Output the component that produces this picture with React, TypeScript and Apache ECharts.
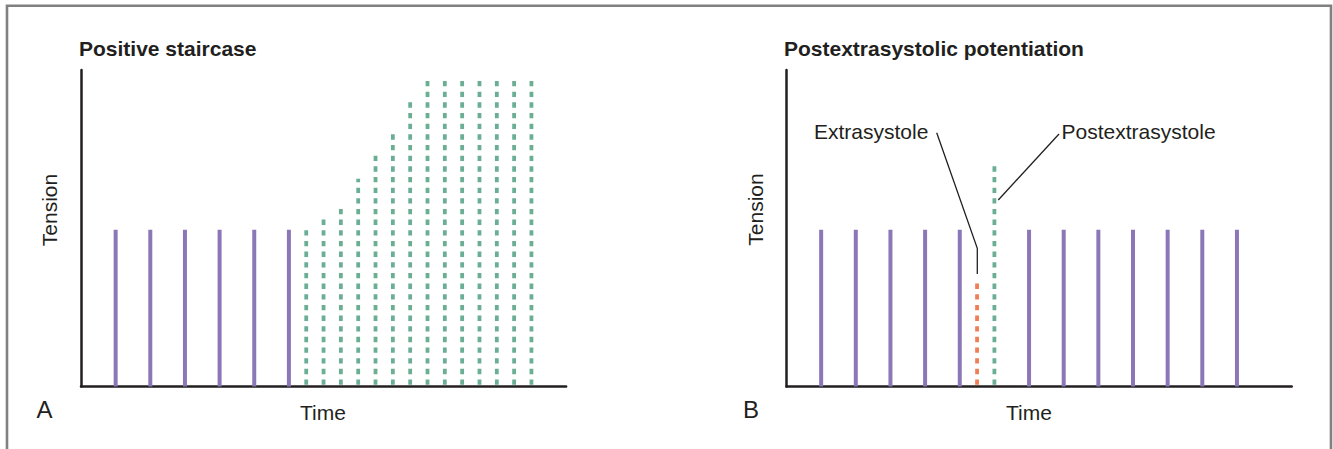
import React, { useEffect, useRef } from "react";
import * as echarts from "echarts";

// ---- Data (time in beat intervals, tension in arbitrary units) ----
const staircaseRegularTime = [1, 2, 3, 4, 5, 6];
const staircaseRegularTension = [50, 50, 50, 50, 50, 50];
const staircaseFastTime = [6.5, 7, 7.5, 8, 8.5, 9, 9.5, 10, 10.5, 11, 11.5, 12, 12.5, 13];
const staircaseFastTension = [50.5, 54, 57.3, 66.3, 74.3, 81.2, 91.4, 98.1, 98.1, 98.1, 98.1, 98.1, 98.1, 98.1];

const pespRegularTime = [1, 2, 3, 4, 5, 7, 8, 9, 10, 11, 12, 13];
const pespRegularTension = [50, 50, 50, 50, 50, 50, 50, 50, 50, 50, 50, 50];
const extrasystoleTime = [5.5];
const extrasystoleTension = [33.5];
const postextrasystoleTime = [6];
const postextrasystoleTension = [71];

const titles = ["Positive staircase", "Postextrasystolic potentiation"];
const panelLetters = ["A", "B"];
const axisNames = { x: "Time", y: "Tension" };
const annotations = ["Extrasystole", "Postextrasystole"];

const PURPLE = "#8b77b7";
const GREEN = "#6aae93";
const ORANGE = "#f07e56";
const INK = "#231f20";
const FONT = "'Liberation Sans', Arial, Helvetica, sans-serif";

const zip = (xs: number[], ys: number[]) => xs.map((x, i) => [x, ys[i]]);

function stem(color: string, width: number, dashed: boolean) {
  return (params: any, api: any) => {
    const x = api.value(0);
    const v = api.value(1);
    const p0 = api.coord([x, 0]);
    const p1 = api.coord([x, v]);
    const style: any = { stroke: color, lineWidth: width, fill: null };
    if (dashed) {
      style.lineDash = [5.33, 5.33];
      style.lineDashOffset = 8.87;
    }
    return {
      type: "line",
      shape: { x1: p0[0], y1: p0[1], x2: p1[0], y2: p1[1] },
      style,
    };
  };
}

function axisCommon(extra: any) {
  return {
    type: "value",
    axisLine: { show: true, onZero: false, lineStyle: { color: INK, width: 2.5 } },
    axisTick: { show: false },
    axisLabel: { show: false },
    splitLine: { show: false },
    ...extra,
  };
}

export default function App() {
  const ref = useRef<HTMLDivElement>(null);

  useEffect(() => {
    if (!ref.current) return;
    const chart = echarts.init(ref.current, null, { renderer: "svg" });

    const textStyle = (size: number, weight: string = "normal") => ({
      fill: INK,
      font: `${weight} ${size}px ${FONT}`,
    });

    const option: any = {
      animation: false,
      grid: [
        { left: 81, top: 70, width: 485.1, height: 316.5 },
        { left: 786.5, top: 70, width: 505.2, height: 316.5 },
      ],
      xAxis: [
        axisCommon({ gridIndex: 0, min: 0, max: 14 }),
        axisCommon({ gridIndex: 1, min: 0, max: 14.58 }),
      ],
      yAxis: [
        axisCommon({ gridIndex: 0, min: 0, max: 101 }),
        axisCommon({ gridIndex: 1, min: 0, max: 101 }),
      ],
      series: [
        {
          type: "custom", name: "Regular", xAxisIndex: 0, yAxisIndex: 0,
          renderItem: stem(PURPLE, 4, false),
          data: zip(staircaseRegularTime, staircaseRegularTension),
        },
        {
          type: "custom", name: "Increased rate", xAxisIndex: 0, yAxisIndex: 0,
          renderItem: stem(GREEN, 3.8, true),
          data: zip(staircaseFastTime, staircaseFastTension),
        },
        {
          type: "custom", name: "Regular", xAxisIndex: 1, yAxisIndex: 1,
          renderItem: stem(PURPLE, 4, false),
          data: zip(pespRegularTime, pespRegularTension),
        },
        {
          type: "custom", name: "Extrasystole", xAxisIndex: 1, yAxisIndex: 1,
          renderItem: stem(ORANGE, 3.8, true),
          data: zip(extrasystoleTime, extrasystoleTension),
        },
        {
          type: "custom", name: "Postextrasystole", xAxisIndex: 1, yAxisIndex: 1,
          renderItem: stem(GREEN, 3.8, true),
          data: zip(postextrasystoleTime, postextrasystoleTension),
        },
      ],
      graphic: [
        {
          type: "rect", silent: true,
          shape: { x: 7, y: 5.8, width: 1324, height: 500 },
          style: { fill: null, stroke: "#808080", lineWidth: 2.6 },
        },
        { type: "text", x: 79, y: 48, style: { ...textStyle(21, "bold"), text: titles[0], verticalAlign: "middle", align: "left" } },
        { type: "text", x: 784, y: 48, style: { ...textStyle(21, "bold"), text: titles[1], verticalAlign: "middle", align: "left" } },
        { type: "text", x: 44.5, y: 409, style: { ...textStyle(24), text: panelLetters[0], verticalAlign: "middle", align: "center" } },
        { type: "text", x: 751, y: 409, style: { ...textStyle(24), text: panelLetters[1], verticalAlign: "middle", align: "center" } },
        { type: "text", x: 323, y: 412.5, style: { ...textStyle(21), text: axisNames.x, verticalAlign: "middle", align: "center" } },
        { type: "text", x: 1029, y: 412.5, style: { ...textStyle(21), text: axisNames.x, verticalAlign: "middle", align: "center" } },
        { type: "text", x: 49, y: 210, rotation: Math.PI / 2, style: { ...textStyle(21), text: axisNames.y, verticalAlign: "middle", align: "center" } },
        { type: "text", x: 755, y: 209.5, rotation: Math.PI / 2, style: { ...textStyle(21), text: axisNames.y, verticalAlign: "middle", align: "center" } },
        { type: "text", x: 814, y: 131, style: { ...textStyle(21), text: annotations[0], verticalAlign: "middle", align: "left" } },
        { type: "text", x: 1061.5, y: 131, style: { ...textStyle(21), text: annotations[1], verticalAlign: "middle", align: "left" } },
        {
          type: "polyline", silent: true,
          shape: { points: [[936.7, 132.7], [977.3, 248.3], [977.3, 274]] },
          style: { stroke: INK, lineWidth: 1.3, fill: null },
        },
        {
          type: "line", silent: true,
          shape: { x1: 1059, y1: 134, x2: 998.3, y2: 200 },
          style: { stroke: INK, lineWidth: 1.3 },
        },
      ],
    };

    chart.setOption(option);
    return () => chart.dispose();
  }, []);

  return (
    <div
      ref={ref}
      style={{ position: "fixed", left: 0, top: 0, width: 1333, height: 449, background: "#fff" }}
    />
  );
}
